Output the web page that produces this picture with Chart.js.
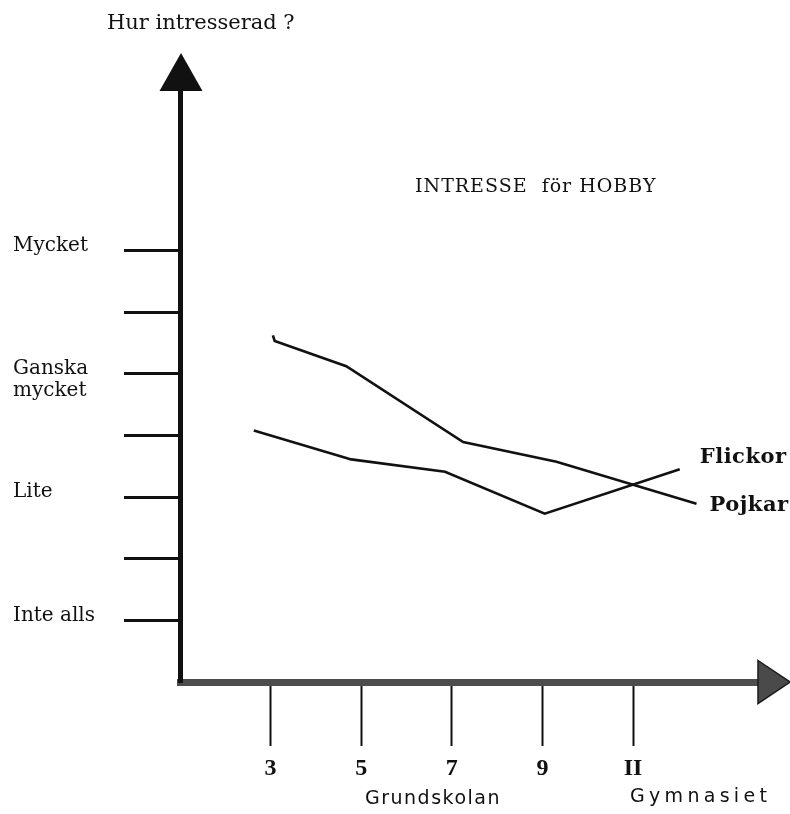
<!DOCTYPE html>
<html>
<head>
<meta charset="utf-8">
<script src="https://cdn.jsdelivr.net/npm/chart.js@4/dist/chart.umd.min.js"></script>
<style>
  html, body { margin: 0; padding: 0; background: #ffffff; }
  #wrap { width: 790px; height: 814px; position: relative; }
</style>
</head>
<body>
<div id="wrap"><canvas id="c"></canvas></div>
<script>
// ---- data ----
const gradeTicks = [3, 5, 7, 9, 11];
const gradeTickLabels = ['3', '5', '7', '9', 'II'];
const levelTicks = [1, 2, 3, 4, 5, 6, 7];
const levelTickLabels = ['Inte alls', '', 'Lite', '', ['', 'Ganska', 'mycket'], '', 'Mycket'];

const pojkarX = [3.05, 3.09, 4.67, 7.25, 9.31, 12.40];
const pojkarY = [5.62, 5.53, 5.12, 3.89, 3.57, 2.89];
const flickorX = [2.63, 4.78, 6.85, 9.05, 12.03];
const flickorY = [4.08, 3.61, 3.41, 2.73, 3.45];

const seriesNames = ['Pojkar', 'Flickor'];
const yAxisTitle = 'Hur intresserad ?';
const chartTitle = 'INTRESSE  för HOBBY';
const stageLabels = ['Grundskolan', 'Gymnasiet'];

function pts(xs, ys) { return xs.map((x, i) => ({ x: x, y: ys[i] })); }

const ink = '#111111';

const decor = {
  id: 'decor',
  afterDraw(chart) {
    const ctx = chart.ctx;
    const a = chart.chartArea;
    const xs = chart.scales.x, ys = chart.scales.y;
    ctx.save();
    // y-axis arrowhead
    ctx.fillStyle = ink;
    ctx.beginPath();
    ctx.moveTo(a.left + 1, a.top - 37);
    ctx.lineTo(a.left - 20.5, a.top + 1);
    ctx.lineTo(a.left + 22.5, a.top + 1);
    ctx.closePath();
    ctx.fill();
    // x-axis arrowhead
    const ay = a.bottom;
    ctx.fillStyle = '#4a4a4a';
    ctx.strokeStyle = '#1a1a1a';
    ctx.lineWidth = 1.5;
    ctx.beginPath();
    ctx.moveTo(a.right - 11, ay - 21.5);
    ctx.lineTo(a.right + 21, ay);
    ctx.lineTo(a.right - 11, ay + 21.5);
    ctx.closePath();
    ctx.fill();
    ctx.stroke();

    // texts
    ctx.fillStyle = ink;
    ctx.textBaseline = 'middle';
    ctx.textAlign = 'left';
    ctx.font = '21px "DejaVu Serif"';
    ctx.fillText(yAxisTitle, 107, 24);

    ctx.font = '19px "DejaVu Serif"';
    ctx.letterSpacing = '1px';
    ctx.fillText(chartTitle, 415, 187);

    // series labels at line ends
    ctx.font = 'bold 21px "DejaVu Serif"';
    ctx.letterSpacing = '0.5px';
    const pLast = pojkarX.length - 1, fLast = flickorX.length - 1;
    ctx.fillText(seriesNames[1], xs.getPixelForValue(flickorX[fLast]) + 20, ys.getPixelForValue(flickorY[fLast]) - 12);
    ctx.fillText(seriesNames[0], xs.getPixelForValue(pojkarX[pLast]) + 13, ys.getPixelForValue(pojkarY[pLast]) + 2);

    // school stage labels
    ctx.font = '19px "DejaVu Sans"';
    ctx.letterSpacing = '1.5px';
    ctx.fillText(stageLabels[0], 365, 799);
    ctx.letterSpacing = '4.3px';
    ctx.fillText(stageLabels[1], 630, 797);
    ctx.restore();
  }
};

new Chart(document.getElementById('c'), {
  type: 'line',
  data: {
    datasets: [
      { label: seriesNames[0], data: pts(pojkarX, pojkarY) },
      { label: seriesNames[1], data: pts(flickorX, flickorY) }
    ]
  },
  options: {
    responsive: true,
    maintainAspectRatio: false,
    animation: false,
    events: [],
    layout: { padding: { left: 13, right: 21, top: 90, bottom: 0 } },
    elements: {
      line: { borderColor: ink, borderWidth: 2.6, tension: 0, fill: false },
      point: { radius: 0, hoverRadius: 0 }
    },
    plugins: { legend: { display: false }, tooltip: { enabled: false }, title: { display: false } },
    scales: {
      x: {
        type: 'linear', position: 'bottom', min: 1, max: 14,
        afterBuildTicks: s => { s.ticks = gradeTicks.map(v => ({ value: v })); },
        afterFit: s => { s.height = 132; },
        ticks: {
          autoSkip: false, maxRotation: 0, padding: 8, color: ink,
          font: { family: '"Liberation Serif"', size: 24, weight: 'bold' },
          callback: (v, i) => gradeTickLabels[i]
        },
        grid: { display: true, drawOnChartArea: false, drawTicks: true, tickLength: 64, tickWidth: 2, tickColor: ink },
        border: { display: true, width: 7, color: '#4d4d4d' }
      },
      y: {
        type: 'linear', position: 'left', min: 0, max: 9.6,
        afterBuildTicks: s => { s.ticks = levelTicks.map(v => ({ value: v })); },
        afterFit: s => { s.width = 167; },
        ticks: {
          autoSkip: false, crossAlign: 'far', labelOffset: -5, color: ink,
          font: { family: '"DejaVu Serif"', size: 20, lineHeight: 1.1 },
          callback: (v, i) => levelTickLabels[i]
        },
        grid: { display: true, drawOnChartArea: false, drawTicks: true, tickLength: 56, tickWidth: 3, tickColor: ink },
        border: { display: true, width: 5, color: ink }
      }
    }
  },
  plugins: [decor]
});
</script>
</body>
</html>
